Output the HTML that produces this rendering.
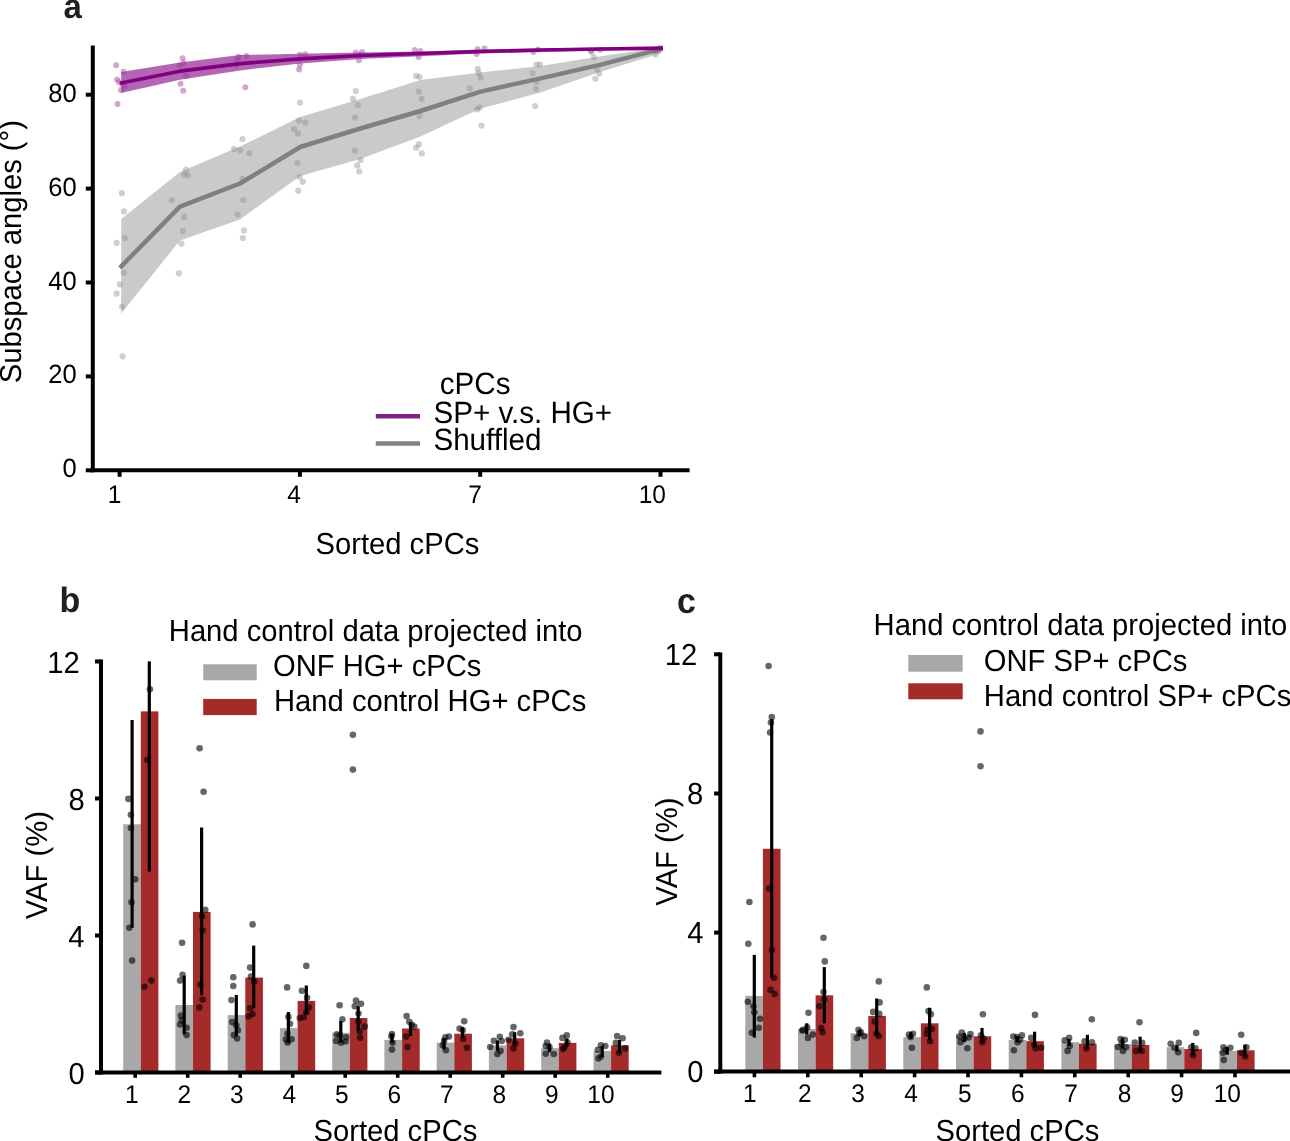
<!DOCTYPE html>
<html><head><meta charset="utf-8"><style>
html,body{margin:0;padding:0;background:#fff;width:1290px;height:1141px;overflow:hidden}
svg{display:block;will-change:transform}
text{font-family:"Liberation Sans", sans-serif;text-rendering:geometricPrecision}
</style></head><body>
<svg width="1290" height="1141" viewBox="0 0 1290 1141">
<rect width="1290" height="1141" fill="#fff"/>
<polygon points="121.2,219 179.9,172 240,146.5 300.2,117 360.3,99 420.4,80 480.5,72.5 540.6,66 600.8,56.2 660.9,47.5 660.9,53.3 600.8,71.8 540.6,92.5 480.5,108.5 420.4,136.5 360.3,159 300.2,176 240,219.4 179.9,240.5 121.2,313.5" fill="#cacaca" fill-opacity="1"/>
<g fill="#8c8c8c" fill-opacity="0.42">
<circle cx="121.9" cy="193.2" r="3.1"/>
<circle cx="123.9" cy="211.4" r="3.1"/>
<circle cx="125" cy="238.1" r="3.1"/>
<circle cx="116.6" cy="242.9" r="3.1"/>
<circle cx="123.7" cy="272.8" r="3.1"/>
<circle cx="120" cy="284.4" r="3.1"/>
<circle cx="116.6" cy="293.7" r="3.1"/>
<circle cx="122.1" cy="306.7" r="3.1"/>
<circle cx="122.6" cy="356.4" r="3.1"/>
<circle cx="185.9" cy="169.7" r="3.1"/>
<circle cx="184.3" cy="174.5" r="3.1"/>
<circle cx="187.8" cy="175.4" r="3.1"/>
<circle cx="171.8" cy="200" r="3.1"/>
<circle cx="184.1" cy="216.9" r="3.1"/>
<circle cx="182.7" cy="231" r="3.1"/>
<circle cx="181.4" cy="243.6" r="3.1"/>
<circle cx="178.9" cy="273.4" r="3.1"/>
<circle cx="242.5" cy="139" r="3.1"/>
<circle cx="234" cy="149" r="3.1"/>
<circle cx="240" cy="150.3" r="3.1"/>
<circle cx="249.5" cy="153.3" r="3.1"/>
<circle cx="242.5" cy="178.8" r="3.1"/>
<circle cx="243.2" cy="200" r="3.1"/>
<circle cx="237.7" cy="214.6" r="3.1"/>
<circle cx="244" cy="230.4" r="3.1"/>
<circle cx="242.9" cy="238.1" r="3.1"/>
<circle cx="298.8" cy="120.7" r="3.1"/>
<circle cx="305.4" cy="122.5" r="3.1"/>
<circle cx="294" cy="129.1" r="3.1"/>
<circle cx="297.9" cy="133.5" r="3.1"/>
<circle cx="297.4" cy="163.1" r="3.1"/>
<circle cx="299.7" cy="176.8" r="3.1"/>
<circle cx="302.9" cy="181.8" r="3.1"/>
<circle cx="298.3" cy="190.7" r="3.1"/>
<circle cx="300.1" cy="102.6" r="3.1"/>
<circle cx="355.8" cy="91.1" r="3.1"/>
<circle cx="352.9" cy="98.9" r="3.1"/>
<circle cx="357.8" cy="105.2" r="3.1"/>
<circle cx="355" cy="117.5" r="3.1"/>
<circle cx="355" cy="150.5" r="3.1"/>
<circle cx="360.7" cy="160" r="3.1"/>
<circle cx="357.3" cy="165.4" r="3.1"/>
<circle cx="359.3" cy="171.5" r="3.1"/>
<circle cx="416.1" cy="75.9" r="3.1"/>
<circle cx="419.5" cy="76.8" r="3.1"/>
<circle cx="418.9" cy="91.7" r="3.1"/>
<circle cx="421.8" cy="98.9" r="3.1"/>
<circle cx="419.5" cy="116.1" r="3.1"/>
<circle cx="418.9" cy="144.2" r="3.1"/>
<circle cx="416.1" cy="147.7" r="3.1"/>
<circle cx="421.8" cy="153.4" r="3.1"/>
<circle cx="477.7" cy="68.8" r="3.1"/>
<circle cx="478.6" cy="73.1" r="3.1"/>
<circle cx="480.6" cy="77.4" r="3.1"/>
<circle cx="470" cy="88.3" r="3.1"/>
<circle cx="477.2" cy="109.5" r="3.1"/>
<circle cx="479.7" cy="107.5" r="3.1"/>
<circle cx="481.5" cy="125.6" r="3.1"/>
<circle cx="536.5" cy="64.5" r="3.1"/>
<circle cx="540" cy="64.5" r="3.1"/>
<circle cx="532.5" cy="73.1" r="3.1"/>
<circle cx="536.5" cy="81.7" r="3.1"/>
<circle cx="536" cy="88.8" r="3.1"/>
<circle cx="535.1" cy="106.1" r="3.1"/>
<circle cx="591.6" cy="52.1" r="3.1"/>
<circle cx="593.9" cy="57.3" r="3.1"/>
<circle cx="596.8" cy="68.8" r="3.1"/>
<circle cx="599.1" cy="73.6" r="3.1"/>
<circle cx="595.3" cy="78.8" r="3.1"/>
<circle cx="655.6" cy="54.4" r="3.1"/>
<circle cx="659.3" cy="50.1" r="3.1"/>
</g>
<polyline points="119.8,267.8 179.9,206.6 240,183.5 300.2,147 360.3,128.5 420.4,111 480.5,91.6 540.6,78.4 600.8,64.6 662.5,48.6" fill="none" stroke="#808080" stroke-width="4.5" stroke-opacity="1" stroke-linejoin="round"/>
<polygon points="121.2,72 179.9,62.4 240,55 300.2,53.8 360.3,52.6 420.4,51.5 480.5,49.5 540.6,48.5 600.8,47.5 660.9,47 660.9,49.2 600.8,50.5 540.6,52 480.5,53.6 420.4,56.2 360.3,59 300.2,63.6 240,70.4 179.9,79.8 121.2,93" fill="#800080" fill-opacity="0.6"/>
<g fill="#9a3a9a" fill-opacity="0.45">
<circle cx="116.2" cy="65.3" r="3.0"/>
<circle cx="123.6" cy="71.8" r="3.0"/>
<circle cx="117" cy="79.5" r="3.0"/>
<circle cx="120.9" cy="89.9" r="3.0"/>
<circle cx="124.7" cy="86.5" r="3.0"/>
<circle cx="117.5" cy="103.9" r="3.0"/>
<circle cx="119" cy="82" r="3.0"/>
<circle cx="122" cy="84" r="3.0"/>
<circle cx="182.6" cy="58.3" r="3.0"/>
<circle cx="183.6" cy="62.9" r="3.0"/>
<circle cx="179.8" cy="65.3" r="3.0"/>
<circle cx="186" cy="75.7" r="3.0"/>
<circle cx="180.5" cy="83.7" r="3.0"/>
<circle cx="183.2" cy="90.7" r="3.0"/>
<circle cx="238.7" cy="56.7" r="3.0"/>
<circle cx="246.4" cy="56" r="3.0"/>
<circle cx="237.1" cy="59.4" r="3.0"/>
<circle cx="236.4" cy="65.1" r="3.0"/>
<circle cx="245.3" cy="87.3" r="3.0"/>
<circle cx="299.9" cy="54.7" r="3.0"/>
<circle cx="305.3" cy="54.3" r="3.0"/>
<circle cx="299.9" cy="64.8" r="3.0"/>
<circle cx="299.1" cy="69.5" r="3.0"/>
<circle cx="355.8" cy="52.4" r="3.0"/>
<circle cx="362" cy="52.1" r="3.0"/>
<circle cx="358.9" cy="60.2" r="3.0"/>
<circle cx="359.8" cy="55" r="3.0"/>
<circle cx="414.7" cy="50.1" r="3.0"/>
<circle cx="420.2" cy="50.9" r="3.0"/>
<circle cx="418.6" cy="57.1" r="3.0"/>
<circle cx="477.5" cy="49.3" r="3.0"/>
<circle cx="484.5" cy="48.5" r="3.0"/>
<circle cx="476.7" cy="54" r="3.0"/>
<circle cx="533.4" cy="52" r="3.0"/>
<circle cx="538" cy="49.5" r="3.0"/>
<circle cx="590.8" cy="50.5" r="3.0"/>
<circle cx="600" cy="49.7" r="3.0"/>
<circle cx="655.9" cy="50.5" r="3.0"/>
<circle cx="660" cy="48" r="3.0"/>
</g>
<polyline points="119.8,83.2 179.9,71.2 240,63.6 300.2,58.8 360.3,55.5 420.4,53.5 480.5,51.5 540.6,50 600.8,49 663,48.2" fill="none" stroke="#800080" stroke-width="3.7" stroke-opacity="1" stroke-linejoin="round"/>
<line x1="92.8" y1="45.6" x2="92.8" y2="472.3" stroke="#000" stroke-width="4" stroke-linecap="butt"/>
<line x1="90.8" y1="470.3" x2="689.6" y2="470.3" stroke="#000" stroke-width="4" stroke-linecap="butt"/>
<line x1="85.8" y1="470.3" x2="92.8" y2="470.3" stroke="#000" stroke-width="4" stroke-linecap="butt"/>
<text transform="translate(76.6 477.3) scale(1 1.04)" font-size="25.5" text-anchor="end" font-weight="normal" fill="#000">0</text>
<line x1="85.8" y1="376.4" x2="92.8" y2="376.4" stroke="#000" stroke-width="4" stroke-linecap="butt"/>
<text transform="translate(76.6 383.4) scale(1 1.04)" font-size="25.5" text-anchor="end" font-weight="normal" fill="#000">20</text>
<line x1="85.8" y1="282.5" x2="92.8" y2="282.5" stroke="#000" stroke-width="4" stroke-linecap="butt"/>
<text transform="translate(76.6 289.5) scale(1 1.04)" font-size="25.5" text-anchor="end" font-weight="normal" fill="#000">40</text>
<line x1="85.8" y1="188.6" x2="92.8" y2="188.6" stroke="#000" stroke-width="4" stroke-linecap="butt"/>
<text transform="translate(76.6 195.6) scale(1 1.04)" font-size="25.5" text-anchor="end" font-weight="normal" fill="#000">60</text>
<line x1="85.8" y1="94.7" x2="92.8" y2="94.7" stroke="#000" stroke-width="4" stroke-linecap="butt"/>
<text transform="translate(76.6 101.7) scale(1 1.04)" font-size="25.5" text-anchor="end" font-weight="normal" fill="#000">80</text>
<line x1="119.6" y1="470.3" x2="119.6" y2="476.8" stroke="#000" stroke-width="4" stroke-linecap="butt"/>
<text transform="translate(114.5 503.4) scale(1 1.04)" font-size="24.5" text-anchor="middle" font-weight="normal" fill="#000">1</text>
<line x1="299.9" y1="470.3" x2="299.9" y2="476.8" stroke="#000" stroke-width="4" stroke-linecap="butt"/>
<text transform="translate(294 503.4) scale(1 1.04)" font-size="24.5" text-anchor="middle" font-weight="normal" fill="#000">4</text>
<line x1="480.2" y1="470.3" x2="480.2" y2="476.8" stroke="#000" stroke-width="4" stroke-linecap="butt"/>
<text transform="translate(475 503.4) scale(1 1.04)" font-size="24.5" text-anchor="middle" font-weight="normal" fill="#000">7</text>
<line x1="660.5" y1="470.3" x2="660.5" y2="476.8" stroke="#000" stroke-width="4" stroke-linecap="butt"/>
<text transform="translate(652.3 503.4) scale(1 1.04)" font-size="24.5" text-anchor="middle" font-weight="normal" fill="#000">10</text>
<text transform="translate(21.4 251.6) rotate(-90) scale(1 1.04)" font-size="29.2" text-anchor="middle" font-weight="normal" fill="#000">Subspace angles (°)</text>
<text transform="translate(315.5 554.1) scale(1 1.04)" font-size="29.2" text-anchor="start" font-weight="normal" fill="#000">Sorted cPCs</text>
<text transform="translate(63.6 17.9) scale(1 1.04)" font-size="33" text-anchor="start" font-weight="bold" fill="#231f20">a</text>
<line x1="375.8" y1="416.3" x2="420" y2="416.3" stroke="#7e2482" stroke-width="4.4" stroke-linecap="butt"/>
<line x1="375.8" y1="443.5" x2="420" y2="443.5" stroke="#828282" stroke-width="4.4" stroke-linecap="butt"/>
<text transform="translate(439.8 393.8) scale(1 1.04)" font-size="29.6" text-anchor="start" font-weight="normal" fill="#000">cPCs</text>
<text transform="translate(433.4 422.6) scale(1 1.04)" font-size="29.6" text-anchor="start" font-weight="normal" fill="#000">SP+ v.s. HG+</text>
<text transform="translate(433.4 449.7) scale(1 1.04)" font-size="29.6" text-anchor="start" font-weight="normal" fill="#000">Shuffled</text>
<rect x="123.2" y="824.3" width="17.6" height="246.7" fill="#a8a8a8"/>
<rect x="140.8" y="711.4" width="17.6" height="359.6" fill="#a52a2a"/>
<rect x="175.4" y="1005" width="17.6" height="66" fill="#a8a8a8"/>
<rect x="193" y="911.9" width="17.6" height="159.1" fill="#a52a2a"/>
<rect x="227.7" y="1015.1" width="17.6" height="55.9" fill="#a8a8a8"/>
<rect x="245.3" y="977.6" width="17.6" height="93.4" fill="#a52a2a"/>
<rect x="279.9" y="1028.1" width="17.6" height="42.9" fill="#a8a8a8"/>
<rect x="297.6" y="1000.9" width="17.6" height="70.1" fill="#a52a2a"/>
<rect x="332.2" y="1032.8" width="17.6" height="38.2" fill="#a8a8a8"/>
<rect x="349.8" y="1018" width="17.6" height="53" fill="#a52a2a"/>
<rect x="384.4" y="1039.9" width="17.6" height="31.1" fill="#a8a8a8"/>
<rect x="402.1" y="1028.5" width="17.6" height="42.5" fill="#a52a2a"/>
<rect x="436.7" y="1042.6" width="17.6" height="28.4" fill="#a8a8a8"/>
<rect x="454.3" y="1033.7" width="17.6" height="37.3" fill="#a52a2a"/>
<rect x="488.9" y="1045.3" width="17.6" height="25.7" fill="#a8a8a8"/>
<rect x="506.6" y="1038.3" width="17.6" height="32.7" fill="#a52a2a"/>
<rect x="541.2" y="1048.2" width="17.6" height="22.8" fill="#a8a8a8"/>
<rect x="558.8" y="1042.9" width="17.6" height="28.1" fill="#a52a2a"/>
<rect x="593.5" y="1050.9" width="17.6" height="20.1" fill="#a8a8a8"/>
<rect x="611.1" y="1045.3" width="17.6" height="25.7" fill="#a52a2a"/>
<g fill="#000" fill-opacity="0.6">
<circle cx="128.4" cy="798.9" r="3.3"/>
<circle cx="130.9" cy="814.8" r="3.3"/>
<circle cx="130.9" cy="828" r="3.3"/>
<circle cx="135.2" cy="879.3" r="3.3"/>
<circle cx="131.5" cy="902.3" r="3.3"/>
<circle cx="129.3" cy="927.8" r="3.3"/>
<circle cx="132.1" cy="960.6" r="3.3"/>
<circle cx="149.9" cy="689.3" r="3.3"/>
<circle cx="147.4" cy="759.9" r="3.3"/>
<circle cx="144.4" cy="986.7" r="3.3"/>
<circle cx="151.4" cy="980.6" r="3.3"/>
<circle cx="199.6" cy="748.2" r="3.3"/>
<circle cx="203.6" cy="791.8" r="3.3"/>
<circle cx="182.1" cy="942.7" r="3.3"/>
<circle cx="182.6" cy="974.9" r="3.3"/>
<circle cx="180.1" cy="980.6" r="3.3"/>
<circle cx="180.9" cy="1015.6" r="3.3"/>
<circle cx="181.7" cy="1020.5" r="3.3"/>
<circle cx="180.1" cy="1024.5" r="3.3"/>
<circle cx="186.6" cy="1027.8" r="3.3"/>
<circle cx="186.6" cy="1035.1" r="3.3"/>
<circle cx="205.3" cy="909.8" r="3.3"/>
<circle cx="202.1" cy="916.3" r="3.3"/>
<circle cx="202.6" cy="930.6" r="3.3"/>
<circle cx="200.5" cy="984.6" r="3.3"/>
<circle cx="202.6" cy="999.6" r="3.3"/>
<circle cx="199.3" cy="1007.4" r="3.3"/>
<circle cx="233.3" cy="977.3" r="3.3"/>
<circle cx="233.3" cy="986" r="3.3"/>
<circle cx="231.4" cy="1000.1" r="3.3"/>
<circle cx="232.2" cy="1022.1" r="3.3"/>
<circle cx="236.3" cy="1025.3" r="3.3"/>
<circle cx="233.8" cy="1035.1" r="3.3"/>
<circle cx="237.1" cy="1038.4" r="3.3"/>
<circle cx="237.9" cy="1030.2" r="3.3"/>
<circle cx="252.6" cy="924.4" r="3.3"/>
<circle cx="250.1" cy="967.6" r="3.3"/>
<circle cx="250.9" cy="976.5" r="3.3"/>
<circle cx="254.2" cy="981.4" r="3.3"/>
<circle cx="250.1" cy="1008.3" r="3.3"/>
<circle cx="248.5" cy="1016.4" r="3.3"/>
<circle cx="252.6" cy="1014" r="3.3"/>
<circle cx="287.1" cy="987.4" r="3.3"/>
<circle cx="288.4" cy="1016.9" r="3.3"/>
<circle cx="290" cy="1023.7" r="3.3"/>
<circle cx="287.6" cy="1033.5" r="3.3"/>
<circle cx="285.9" cy="1039.2" r="3.3"/>
<circle cx="291.6" cy="1039.2" r="3.3"/>
<circle cx="287.6" cy="1042.4" r="3.3"/>
<circle cx="306.3" cy="965.9" r="3.3"/>
<circle cx="301.9" cy="990.8" r="3.3"/>
<circle cx="307.1" cy="997.7" r="3.3"/>
<circle cx="308.7" cy="1007.4" r="3.3"/>
<circle cx="306.3" cy="1012.3" r="3.3"/>
<circle cx="299.8" cy="1018" r="3.3"/>
<circle cx="303.8" cy="1017.2" r="3.3"/>
<circle cx="339.6" cy="1005.2" r="3.3"/>
<circle cx="342.4" cy="1019.2" r="3.3"/>
<circle cx="336.8" cy="1034.4" r="3.3"/>
<circle cx="339.9" cy="1035.3" r="3.3"/>
<circle cx="346.1" cy="1037.2" r="3.3"/>
<circle cx="336.2" cy="1040.9" r="3.3"/>
<circle cx="341.1" cy="1042.8" r="3.3"/>
<circle cx="345.5" cy="1041.5" r="3.3"/>
<circle cx="356" cy="1000.6" r="3.3"/>
<circle cx="361" cy="1003.7" r="3.3"/>
<circle cx="354.8" cy="1006.2" r="3.3"/>
<circle cx="358.5" cy="1013.6" r="3.3"/>
<circle cx="358.5" cy="1021.7" r="3.3"/>
<circle cx="364.7" cy="1026.6" r="3.3"/>
<circle cx="359.7" cy="1031.6" r="3.3"/>
<circle cx="360.1" cy="1037.8" r="3.3"/>
<circle cx="352.9" cy="734.8" r="3.3"/>
<circle cx="352.9" cy="769.6" r="3.3"/>
<circle cx="392" cy="1034.1" r="3.3"/>
<circle cx="391.4" cy="1036.6" r="3.3"/>
<circle cx="392.6" cy="1042.8" r="3.3"/>
<circle cx="392" cy="1049.6" r="3.3"/>
<circle cx="406.6" cy="1016.1" r="3.3"/>
<circle cx="409.3" cy="1021.7" r="3.3"/>
<circle cx="411.8" cy="1024.8" r="3.3"/>
<circle cx="414.3" cy="1026.6" r="3.3"/>
<circle cx="406.2" cy="1036.6" r="3.3"/>
<circle cx="407.5" cy="1047.1" r="3.3"/>
<circle cx="445.3" cy="1037.2" r="3.3"/>
<circle cx="449" cy="1036.6" r="3.3"/>
<circle cx="442.8" cy="1045.2" r="3.3"/>
<circle cx="445.9" cy="1050.2" r="3.3"/>
<circle cx="444.1" cy="1040.9" r="3.3"/>
<circle cx="464.2" cy="1021.3" r="3.3"/>
<circle cx="459.6" cy="1028.5" r="3.3"/>
<circle cx="462.7" cy="1030.3" r="3.3"/>
<circle cx="463.3" cy="1039" r="3.3"/>
<circle cx="467" cy="1047.7" r="3.3"/>
<circle cx="490.2" cy="1047" r="3.3"/>
<circle cx="493.9" cy="1040.8" r="3.3"/>
<circle cx="499.8" cy="1036.7" r="3.3"/>
<circle cx="501.7" cy="1041" r="3.3"/>
<circle cx="497.4" cy="1054" r="3.3"/>
<circle cx="500.5" cy="1050.9" r="3.3"/>
<circle cx="513.5" cy="1027.1" r="3.3"/>
<circle cx="520.3" cy="1033.3" r="3.3"/>
<circle cx="508.5" cy="1039.8" r="3.3"/>
<circle cx="515.3" cy="1043.5" r="3.3"/>
<circle cx="513.5" cy="1048.4" r="3.3"/>
<circle cx="512.2" cy="1034.2" r="3.3"/>
<circle cx="547" cy="1042.5" r="3.3"/>
<circle cx="545.7" cy="1046" r="3.3"/>
<circle cx="549.5" cy="1047.2" r="3.3"/>
<circle cx="545.7" cy="1053.7" r="3.3"/>
<circle cx="553.8" cy="1054" r="3.3"/>
<circle cx="566.8" cy="1035.4" r="3.3"/>
<circle cx="562.5" cy="1037.9" r="3.3"/>
<circle cx="567.4" cy="1042.2" r="3.3"/>
<circle cx="564.3" cy="1047.2" r="3.3"/>
<circle cx="563.1" cy="1049.1" r="3.3"/>
<circle cx="600.9" cy="1045.3" r="3.3"/>
<circle cx="605.3" cy="1046" r="3.3"/>
<circle cx="597.8" cy="1049.7" r="3.3"/>
<circle cx="600.9" cy="1056.5" r="3.3"/>
<circle cx="598.4" cy="1058.4" r="3.3"/>
<circle cx="617.1" cy="1036" r="3.3"/>
<circle cx="622.6" cy="1038.3" r="3.3"/>
<circle cx="615.8" cy="1042.9" r="3.3"/>
<circle cx="625.1" cy="1048.4" r="3.3"/>
<circle cx="618.9" cy="1052.8" r="3.3"/>
</g>
<line x1="132.1" y1="720" x2="132.1" y2="927.8" stroke="#000" stroke-width="3.2" stroke-linecap="butt"/>
<line x1="149.3" y1="661.4" x2="149.3" y2="871.6" stroke="#000" stroke-width="3.2" stroke-linecap="butt"/>
<line x1="184.2" y1="975.7" x2="184.2" y2="1034.3" stroke="#000" stroke-width="3.2" stroke-linecap="butt"/>
<line x1="201.6" y1="827.5" x2="201.6" y2="995.2" stroke="#000" stroke-width="3.2" stroke-linecap="butt"/>
<line x1="236.3" y1="994.9" x2="236.3" y2="1035.9" stroke="#000" stroke-width="3.2" stroke-linecap="butt"/>
<line x1="253.7" y1="945.6" x2="253.7" y2="1008.3" stroke="#000" stroke-width="3.2" stroke-linecap="butt"/>
<line x1="288.4" y1="1012" x2="288.4" y2="1043.3" stroke="#000" stroke-width="3.2" stroke-linecap="butt"/>
<line x1="306.3" y1="985.5" x2="306.3" y2="1014" stroke="#000" stroke-width="3.2" stroke-linecap="butt"/>
<line x1="340.8" y1="1021" x2="340.8" y2="1042.8" stroke="#000" stroke-width="3.2" stroke-linecap="butt"/>
<line x1="358.2" y1="1006.2" x2="358.2" y2="1031" stroke="#000" stroke-width="3.2" stroke-linecap="butt"/>
<line x1="392" y1="1033.4" x2="392" y2="1043.3" stroke="#000" stroke-width="3.2" stroke-linecap="butt"/>
<line x1="410.5" y1="1022.3" x2="410.5" y2="1035.9" stroke="#000" stroke-width="3.2" stroke-linecap="butt"/>
<line x1="444" y1="1038.4" x2="444" y2="1049.5" stroke="#000" stroke-width="3.2" stroke-linecap="butt"/>
<line x1="462.6" y1="1027.2" x2="462.6" y2="1038.4" stroke="#000" stroke-width="3.2" stroke-linecap="butt"/>
<line x1="497.4" y1="1040.4" x2="497.4" y2="1050.9" stroke="#000" stroke-width="3.2" stroke-linecap="butt"/>
<line x1="514.7" y1="1032.3" x2="514.7" y2="1044.1" stroke="#000" stroke-width="3.2" stroke-linecap="butt"/>
<line x1="549.5" y1="1043.5" x2="549.5" y2="1052.2" stroke="#000" stroke-width="3.2" stroke-linecap="butt"/>
<line x1="566.8" y1="1038.5" x2="566.8" y2="1047.2" stroke="#000" stroke-width="3.2" stroke-linecap="butt"/>
<line x1="602.2" y1="1046" x2="602.2" y2="1057.1" stroke="#000" stroke-width="3.2" stroke-linecap="butt"/>
<line x1="619.5" y1="1039.8" x2="619.5" y2="1052.8" stroke="#000" stroke-width="3.2" stroke-linecap="butt"/>
<line x1="101" y1="659.4" x2="101" y2="1074.5" stroke="#000" stroke-width="4" stroke-linecap="butt"/>
<line x1="95" y1="1072.5" x2="661.4" y2="1072.5" stroke="#000" stroke-width="4" stroke-linecap="butt"/>
<line x1="95" y1="1072.5" x2="101" y2="1072.5" stroke="#000" stroke-width="4" stroke-linecap="butt"/>
<text transform="translate(84.8 1083.7) scale(1 1.04)" font-size="29.2" text-anchor="end" font-weight="normal" fill="#000">0</text>
<line x1="95" y1="935.5" x2="101" y2="935.5" stroke="#000" stroke-width="4" stroke-linecap="butt"/>
<text transform="translate(84.5 946.7) scale(1 1.04)" font-size="29.2" text-anchor="end" font-weight="normal" fill="#000">4</text>
<line x1="95" y1="798.5" x2="101" y2="798.5" stroke="#000" stroke-width="4" stroke-linecap="butt"/>
<text transform="translate(84.8 809.7) scale(1 1.04)" font-size="29.2" text-anchor="end" font-weight="normal" fill="#000">8</text>
<line x1="95" y1="661.5" x2="101" y2="661.5" stroke="#000" stroke-width="4" stroke-linecap="butt"/>
<text transform="translate(79.8 672.7) scale(1 1.04)" font-size="29.2" text-anchor="end" font-weight="normal" fill="#000">12</text>
<line x1="135.2" y1="1072.5" x2="135.2" y2="1077.8" stroke="#000" stroke-width="3.6" stroke-linecap="butt"/>
<text transform="translate(131.9 1102.6) scale(1 1.04)" font-size="24.5" text-anchor="middle" font-weight="normal" fill="#000">1</text>
<line x1="187.7" y1="1072.5" x2="187.7" y2="1077.8" stroke="#000" stroke-width="3.6" stroke-linecap="butt"/>
<text transform="translate(184.4 1102.6) scale(1 1.04)" font-size="24.5" text-anchor="middle" font-weight="normal" fill="#000">2</text>
<line x1="240.2" y1="1072.5" x2="240.2" y2="1077.8" stroke="#000" stroke-width="3.6" stroke-linecap="butt"/>
<text transform="translate(236.9 1102.6) scale(1 1.04)" font-size="24.5" text-anchor="middle" font-weight="normal" fill="#000">3</text>
<line x1="292.7" y1="1072.5" x2="292.7" y2="1077.8" stroke="#000" stroke-width="3.6" stroke-linecap="butt"/>
<text transform="translate(289.4 1102.6) scale(1 1.04)" font-size="24.5" text-anchor="middle" font-weight="normal" fill="#000">4</text>
<line x1="345.2" y1="1072.5" x2="345.2" y2="1077.8" stroke="#000" stroke-width="3.6" stroke-linecap="butt"/>
<text transform="translate(341.9 1102.6) scale(1 1.04)" font-size="24.5" text-anchor="middle" font-weight="normal" fill="#000">5</text>
<line x1="397.7" y1="1072.5" x2="397.7" y2="1077.8" stroke="#000" stroke-width="3.6" stroke-linecap="butt"/>
<text transform="translate(394.4 1102.6) scale(1 1.04)" font-size="24.5" text-anchor="middle" font-weight="normal" fill="#000">6</text>
<line x1="450.2" y1="1072.5" x2="450.2" y2="1077.8" stroke="#000" stroke-width="3.6" stroke-linecap="butt"/>
<text transform="translate(446.9 1102.6) scale(1 1.04)" font-size="24.5" text-anchor="middle" font-weight="normal" fill="#000">7</text>
<line x1="502.7" y1="1072.5" x2="502.7" y2="1077.8" stroke="#000" stroke-width="3.6" stroke-linecap="butt"/>
<text transform="translate(499.4 1102.6) scale(1 1.04)" font-size="24.5" text-anchor="middle" font-weight="normal" fill="#000">8</text>
<line x1="555.2" y1="1072.5" x2="555.2" y2="1077.8" stroke="#000" stroke-width="3.6" stroke-linecap="butt"/>
<text transform="translate(551.9 1102.6) scale(1 1.04)" font-size="24.5" text-anchor="middle" font-weight="normal" fill="#000">9</text>
<line x1="607.7" y1="1072.5" x2="607.7" y2="1077.8" stroke="#000" stroke-width="3.6" stroke-linecap="butt"/>
<text transform="translate(600.9 1102.6) scale(1 1.04)" font-size="24.5" text-anchor="middle" font-weight="normal" fill="#000">10</text>
<text transform="translate(46.9 865.2) rotate(-90) scale(1 1.04)" font-size="29.2" text-anchor="middle" font-weight="normal" fill="#000">VAF (%)</text>
<text transform="translate(313.5 1140.8) scale(1 1.04)" font-size="29.2" text-anchor="start" font-weight="normal" fill="#000">Sorted cPCs</text>
<text transform="translate(59.4 612.3) scale(1 1.04)" font-size="34" text-anchor="start" font-weight="bold" fill="#231f20">b</text>
<text transform="translate(168.8 640.6) scale(1 1.04)" font-size="29.2" text-anchor="start" font-weight="normal" fill="#000">Hand control data projected into</text>
<rect x="203.2" y="664.3" width="53.5" height="16" fill="#a8a8a8"/>
<rect x="203.2" y="698.9" width="53.5" height="16.2" fill="#a52a2a"/>
<text transform="translate(273 676) scale(1 1.04)" font-size="29.2" text-anchor="start" font-weight="normal" fill="#000">ONF HG+ cPCs</text>
<text transform="translate(274 711.4) scale(1 1.04)" font-size="29.2" text-anchor="start" font-weight="normal" fill="#000">Hand control HG+ cPCs</text>
<rect x="745.3" y="995.9" width="17.6" height="74.1" fill="#a8a8a8"/>
<rect x="762.9" y="848.8" width="17.6" height="221.2" fill="#a52a2a"/>
<rect x="798" y="1029" width="17.6" height="41" fill="#a8a8a8"/>
<rect x="815.6" y="995.3" width="17.6" height="74.7" fill="#a52a2a"/>
<rect x="850.7" y="1033.3" width="17.6" height="36.7" fill="#a8a8a8"/>
<rect x="868.3" y="1015.9" width="17.6" height="54.1" fill="#a52a2a"/>
<rect x="903.3" y="1037.1" width="17.6" height="32.9" fill="#a8a8a8"/>
<rect x="920.9" y="1023.3" width="17.6" height="46.7" fill="#a52a2a"/>
<rect x="956" y="1035.8" width="17.6" height="34.2" fill="#a8a8a8"/>
<rect x="973.6" y="1036.3" width="17.6" height="33.7" fill="#a52a2a"/>
<rect x="1008.7" y="1040" width="17.6" height="30" fill="#a8a8a8"/>
<rect x="1026.3" y="1041.2" width="17.6" height="28.8" fill="#a52a2a"/>
<rect x="1061.4" y="1042.2" width="17.6" height="27.8" fill="#a8a8a8"/>
<rect x="1079" y="1043.7" width="17.6" height="26.3" fill="#a52a2a"/>
<rect x="1114.1" y="1044.1" width="17.6" height="25.9" fill="#a8a8a8"/>
<rect x="1131.7" y="1045" width="17.6" height="25" fill="#a52a2a"/>
<rect x="1166.7" y="1047.2" width="17.6" height="22.8" fill="#a8a8a8"/>
<rect x="1184.3" y="1049.1" width="17.6" height="20.9" fill="#a52a2a"/>
<rect x="1219.4" y="1050.9" width="17.6" height="19.1" fill="#a8a8a8"/>
<rect x="1237" y="1050.3" width="17.6" height="19.7" fill="#a52a2a"/>
<g fill="#000" fill-opacity="0.6">
<circle cx="749.4" cy="902" r="3.3"/>
<circle cx="748.3" cy="943.8" r="3.3"/>
<circle cx="747.8" cy="1001.8" r="3.3"/>
<circle cx="753.5" cy="1006.2" r="3.3"/>
<circle cx="754.3" cy="1012.2" r="3.3"/>
<circle cx="760" cy="1018.7" r="3.3"/>
<circle cx="758.8" cy="1027.8" r="3.3"/>
<circle cx="751.8" cy="1032.7" r="3.3"/>
<circle cx="768.9" cy="888.5" r="3.3"/>
<circle cx="771.9" cy="950" r="3.3"/>
<circle cx="774.1" cy="977.7" r="3.3"/>
<circle cx="770.6" cy="989.9" r="3.3"/>
<circle cx="774.6" cy="994" r="3.3"/>
<circle cx="768.6" cy="666" r="3.3"/>
<circle cx="771.8" cy="717.1" r="3.3"/>
<circle cx="770.9" cy="722.5" r="3.3"/>
<circle cx="770.1" cy="732.5" r="3.3"/>
<circle cx="808.5" cy="1012.7" r="3.3"/>
<circle cx="803.1" cy="1029.8" r="3.3"/>
<circle cx="807.2" cy="1027.3" r="3.3"/>
<circle cx="812.9" cy="1034.6" r="3.3"/>
<circle cx="808" cy="1037.9" r="3.3"/>
<circle cx="802.3" cy="1030.6" r="3.3"/>
<circle cx="823.5" cy="937.8" r="3.3"/>
<circle cx="824.8" cy="961.4" r="3.3"/>
<circle cx="823.5" cy="992" r="3.3"/>
<circle cx="824.3" cy="999.6" r="3.3"/>
<circle cx="819.4" cy="1006.2" r="3.3"/>
<circle cx="821.3" cy="1028.1" r="3.3"/>
<circle cx="822.6" cy="1032.2" r="3.3"/>
<circle cx="858.5" cy="1029.8" r="3.3"/>
<circle cx="860.9" cy="1032.2" r="3.3"/>
<circle cx="856.8" cy="1037.9" r="3.3"/>
<circle cx="864.2" cy="1036.3" r="3.3"/>
<circle cx="859.3" cy="1033.8" r="3.3"/>
<circle cx="878.8" cy="981.4" r="3.3"/>
<circle cx="879.6" cy="1002.4" r="3.3"/>
<circle cx="873.1" cy="1011.9" r="3.3"/>
<circle cx="879.3" cy="1013.8" r="3.3"/>
<circle cx="874.7" cy="1021.6" r="3.3"/>
<circle cx="876.4" cy="1033.8" r="3.3"/>
<circle cx="878.8" cy="1036.3" r="3.3"/>
<circle cx="908.9" cy="1034.6" r="3.3"/>
<circle cx="913" cy="1033.8" r="3.3"/>
<circle cx="910.6" cy="1037.1" r="3.3"/>
<circle cx="911.9" cy="1047.7" r="3.3"/>
<circle cx="926.8" cy="987.4" r="3.3"/>
<circle cx="928.5" cy="1011" r="3.3"/>
<circle cx="930.9" cy="1014.3" r="3.3"/>
<circle cx="927.6" cy="1029.8" r="3.3"/>
<circle cx="931.7" cy="1029" r="3.3"/>
<circle cx="926.8" cy="1033.8" r="3.3"/>
<circle cx="930.1" cy="1041.2" r="3.3"/>
<circle cx="961.8" cy="1032.5" r="3.3"/>
<circle cx="959.3" cy="1036.6" r="3.3"/>
<circle cx="970.5" cy="1034.1" r="3.3"/>
<circle cx="968.6" cy="1037.5" r="3.3"/>
<circle cx="960.5" cy="1042.2" r="3.3"/>
<circle cx="967.4" cy="1048.2" r="3.3"/>
<circle cx="964.3" cy="1038.5" r="3.3"/>
<circle cx="982.9" cy="1014.3" r="3.3"/>
<circle cx="981" cy="1035.4" r="3.3"/>
<circle cx="983.5" cy="1038.5" r="3.3"/>
<circle cx="982.2" cy="1042.2" r="3.3"/>
<circle cx="980.5" cy="731.4" r="3.3"/>
<circle cx="980.5" cy="766.3" r="3.3"/>
<circle cx="1013.3" cy="1036.6" r="3.3"/>
<circle cx="1017" cy="1037" r="3.3"/>
<circle cx="1021.9" cy="1035.4" r="3.3"/>
<circle cx="1017.6" cy="1042.2" r="3.3"/>
<circle cx="1013.9" cy="1050.3" r="3.3"/>
<circle cx="1020.1" cy="1039.7" r="3.3"/>
<circle cx="1035" cy="1014.9" r="3.3"/>
<circle cx="1031.2" cy="1037.9" r="3.3"/>
<circle cx="1034.3" cy="1044.7" r="3.3"/>
<circle cx="1041.2" cy="1047.8" r="3.3"/>
<circle cx="1035.6" cy="1048.4" r="3.3"/>
<circle cx="1064.7" cy="1040.3" r="3.3"/>
<circle cx="1069.1" cy="1037.9" r="3.3"/>
<circle cx="1069.7" cy="1045.9" r="3.3"/>
<circle cx="1067.6" cy="1050.9" r="3.3"/>
<circle cx="1091.8" cy="1019.3" r="3.3"/>
<circle cx="1084.6" cy="1041.2" r="3.3"/>
<circle cx="1092" cy="1042.2" r="3.3"/>
<circle cx="1086.4" cy="1048.4" r="3.3"/>
<circle cx="1120.5" cy="1039.1" r="3.3"/>
<circle cx="1124.8" cy="1039.8" r="3.3"/>
<circle cx="1118" cy="1047" r="3.3"/>
<circle cx="1123" cy="1050.9" r="3.3"/>
<circle cx="1126.1" cy="1047.2" r="3.3"/>
<circle cx="1121.7" cy="1043.5" r="3.3"/>
<circle cx="1139.5" cy="1022.2" r="3.3"/>
<circle cx="1134.8" cy="1042.5" r="3.3"/>
<circle cx="1142.2" cy="1042.9" r="3.3"/>
<circle cx="1136" cy="1050.9" r="3.3"/>
<circle cx="1141.6" cy="1050.9" r="3.3"/>
<circle cx="1170.7" cy="1043.7" r="3.3"/>
<circle cx="1178.8" cy="1042.9" r="3.3"/>
<circle cx="1174.5" cy="1047.8" r="3.3"/>
<circle cx="1178.2" cy="1052.2" r="3.3"/>
<circle cx="1196.2" cy="1032.9" r="3.3"/>
<circle cx="1191.2" cy="1047.2" r="3.3"/>
<circle cx="1195.5" cy="1048.4" r="3.3"/>
<circle cx="1193.1" cy="1055.3" r="3.3"/>
<circle cx="1223.4" cy="1047.2" r="3.3"/>
<circle cx="1230.3" cy="1047.8" r="3.3"/>
<circle cx="1222.8" cy="1052.8" r="3.3"/>
<circle cx="1223.8" cy="1059.9" r="3.3"/>
<circle cx="1225.9" cy="1049.7" r="3.3"/>
<circle cx="1241.2" cy="1034.8" r="3.3"/>
<circle cx="1246.4" cy="1047.2" r="3.3"/>
<circle cx="1241.4" cy="1052.8" r="3.3"/>
<circle cx="1245.2" cy="1056.5" r="3.3"/>
</g>
<line x1="754.3" y1="954.9" x2="754.3" y2="1037.6" stroke="#000" stroke-width="3.2" stroke-linecap="butt"/>
<line x1="771.7" y1="719" x2="771.7" y2="977.7" stroke="#000" stroke-width="3.2" stroke-linecap="butt"/>
<line x1="806.7" y1="1023.3" x2="806.7" y2="1034.6" stroke="#000" stroke-width="3.2" stroke-linecap="butt"/>
<line x1="824.3" y1="967.1" x2="824.3" y2="1023.3" stroke="#000" stroke-width="3.2" stroke-linecap="butt"/>
<line x1="859.8" y1="1029.8" x2="859.8" y2="1035.5" stroke="#000" stroke-width="3.2" stroke-linecap="butt"/>
<line x1="876.7" y1="998.5" x2="876.7" y2="1034.6" stroke="#000" stroke-width="3.2" stroke-linecap="butt"/>
<line x1="910.9" y1="1032.2" x2="910.9" y2="1038.7" stroke="#000" stroke-width="3.2" stroke-linecap="butt"/>
<line x1="929.6" y1="1007.8" x2="929.6" y2="1040.3" stroke="#000" stroke-width="3.2" stroke-linecap="butt"/>
<line x1="964.3" y1="1032.9" x2="964.3" y2="1042.2" stroke="#000" stroke-width="3.2" stroke-linecap="butt"/>
<line x1="982" y1="1027.9" x2="982" y2="1042.8" stroke="#000" stroke-width="3.2" stroke-linecap="butt"/>
<line x1="1017" y1="1036" x2="1017" y2="1042.2" stroke="#000" stroke-width="3.2" stroke-linecap="butt"/>
<line x1="1034.6" y1="1031.7" x2="1034.6" y2="1047.8" stroke="#000" stroke-width="3.2" stroke-linecap="butt"/>
<line x1="1069.1" y1="1039.1" x2="1069.1" y2="1045.9" stroke="#000" stroke-width="3.2" stroke-linecap="butt"/>
<line x1="1087.4" y1="1034.8" x2="1087.4" y2="1049" stroke="#000" stroke-width="3.2" stroke-linecap="butt"/>
<line x1="1122.4" y1="1037.9" x2="1122.4" y2="1048.4" stroke="#000" stroke-width="3.2" stroke-linecap="butt"/>
<line x1="1140.1" y1="1036.7" x2="1140.1" y2="1051.5" stroke="#000" stroke-width="3.2" stroke-linecap="butt"/>
<line x1="1176.9" y1="1045.3" x2="1176.9" y2="1051.5" stroke="#000" stroke-width="3.2" stroke-linecap="butt"/>
<line x1="1192.8" y1="1042.9" x2="1192.8" y2="1055.3" stroke="#000" stroke-width="3.2" stroke-linecap="butt"/>
<line x1="1227.2" y1="1047.2" x2="1227.2" y2="1054.7" stroke="#000" stroke-width="3.2" stroke-linecap="butt"/>
<line x1="1244.9" y1="1044.7" x2="1244.9" y2="1057.1" stroke="#000" stroke-width="3.2" stroke-linecap="butt"/>
<line x1="720.3" y1="652.5" x2="720.3" y2="1073.5" stroke="#000" stroke-width="4" stroke-linecap="butt"/>
<line x1="714.1" y1="1071.6" x2="1290" y2="1071.6" stroke="#000" stroke-width="4" stroke-linecap="butt"/>
<line x1="714.1" y1="1071.7" x2="720.3" y2="1071.7" stroke="#000" stroke-width="4" stroke-linecap="butt"/>
<text transform="translate(703.5 1082.2) scale(1 1.04)" font-size="29.2" text-anchor="end" font-weight="normal" fill="#000">0</text>
<line x1="714.1" y1="932.6" x2="720.3" y2="932.6" stroke="#000" stroke-width="4" stroke-linecap="butt"/>
<text transform="translate(703.5 943.1) scale(1 1.04)" font-size="29.2" text-anchor="end" font-weight="normal" fill="#000">4</text>
<line x1="714.1" y1="793.5" x2="720.3" y2="793.5" stroke="#000" stroke-width="4" stroke-linecap="butt"/>
<text transform="translate(703.3 804) scale(1 1.04)" font-size="29.2" text-anchor="end" font-weight="normal" fill="#000">8</text>
<line x1="714.1" y1="654.3" x2="720.3" y2="654.3" stroke="#000" stroke-width="4" stroke-linecap="butt"/>
<text transform="translate(697.2 664.8) scale(1 1.04)" font-size="29.2" text-anchor="end" font-weight="normal" fill="#000">12</text>
<line x1="754.4" y1="1071.6" x2="754.4" y2="1077.3" stroke="#000" stroke-width="3.6" stroke-linecap="butt"/>
<text transform="translate(749.8 1101.8) scale(1 1.04)" font-size="24.5" text-anchor="middle" font-weight="normal" fill="#000">1</text>
<line x1="807.8" y1="1071.6" x2="807.8" y2="1077.3" stroke="#000" stroke-width="3.6" stroke-linecap="butt"/>
<text transform="translate(804.7 1101.8) scale(1 1.04)" font-size="24.5" text-anchor="middle" font-weight="normal" fill="#000">2</text>
<line x1="861.2" y1="1071.6" x2="861.2" y2="1077.3" stroke="#000" stroke-width="3.6" stroke-linecap="butt"/>
<text transform="translate(858.1 1101.8) scale(1 1.04)" font-size="24.5" text-anchor="middle" font-weight="normal" fill="#000">3</text>
<line x1="914.6" y1="1071.6" x2="914.6" y2="1077.3" stroke="#000" stroke-width="3.6" stroke-linecap="butt"/>
<text transform="translate(911 1101.8) scale(1 1.04)" font-size="24.5" text-anchor="middle" font-weight="normal" fill="#000">4</text>
<line x1="968" y1="1071.6" x2="968" y2="1077.3" stroke="#000" stroke-width="3.6" stroke-linecap="butt"/>
<text transform="translate(964.9 1101.8) scale(1 1.04)" font-size="24.5" text-anchor="middle" font-weight="normal" fill="#000">5</text>
<line x1="1021.4" y1="1071.6" x2="1021.4" y2="1077.3" stroke="#000" stroke-width="3.6" stroke-linecap="butt"/>
<text transform="translate(1017.8 1101.8) scale(1 1.04)" font-size="24.5" text-anchor="middle" font-weight="normal" fill="#000">6</text>
<line x1="1074.8" y1="1071.6" x2="1074.8" y2="1077.3" stroke="#000" stroke-width="3.6" stroke-linecap="butt"/>
<text transform="translate(1071.1 1101.8) scale(1 1.04)" font-size="24.5" text-anchor="middle" font-weight="normal" fill="#000">7</text>
<line x1="1128.2" y1="1071.6" x2="1128.2" y2="1077.3" stroke="#000" stroke-width="3.6" stroke-linecap="butt"/>
<text transform="translate(1124.5 1101.8) scale(1 1.04)" font-size="24.5" text-anchor="middle" font-weight="normal" fill="#000">8</text>
<line x1="1181.6" y1="1071.6" x2="1181.6" y2="1077.3" stroke="#000" stroke-width="3.6" stroke-linecap="butt"/>
<text transform="translate(1177 1101.8) scale(1 1.04)" font-size="24.5" text-anchor="middle" font-weight="normal" fill="#000">9</text>
<line x1="1235" y1="1071.6" x2="1235" y2="1077.3" stroke="#000" stroke-width="3.6" stroke-linecap="butt"/>
<text transform="translate(1227.3 1101.8) scale(1 1.04)" font-size="24.5" text-anchor="middle" font-weight="normal" fill="#000">10</text>
<text transform="translate(676.5 851.6) rotate(-90) scale(1 1.04)" font-size="29.2" text-anchor="middle" font-weight="normal" fill="#000">VAF (%)</text>
<text transform="translate(935.5 1140.8) scale(1 1.04)" font-size="29.2" text-anchor="start" font-weight="normal" fill="#000">Sorted cPCs</text>
<text transform="translate(677 613.2) scale(1 1.04)" font-size="34" text-anchor="start" font-weight="bold" fill="#231f20">c</text>
<text transform="translate(873.6 635) scale(1 1.04)" font-size="29.2" text-anchor="start" font-weight="normal" fill="#000">Hand control data projected into</text>
<rect x="908.3" y="655" width="54.4" height="16.7" fill="#a8a8a8"/>
<rect x="908.3" y="683.3" width="54.4" height="16" fill="#a52a2a"/>
<text transform="translate(983.8 671) scale(1 1.04)" font-size="29.2" text-anchor="start" font-weight="normal" fill="#000">ONF SP+ cPCs</text>
<text transform="translate(983.8 706) scale(1 1.04)" font-size="29.2" text-anchor="start" font-weight="normal" fill="#000">Hand control SP+ cPCs</text>
</svg>
</body></html>
